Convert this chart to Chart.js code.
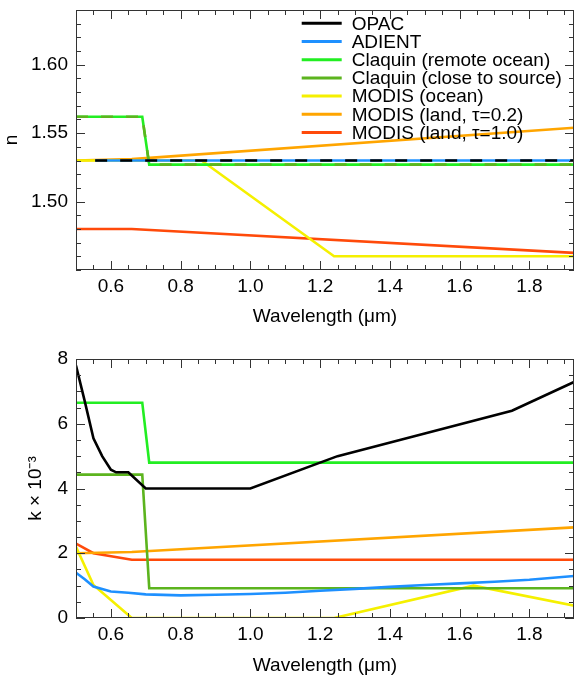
<!DOCTYPE html>
<html>
<head>
<meta charset="utf-8">
<script src="https://cdn.jsdelivr.net/npm/chart.js@4.4.0/dist/chart.umd.min.js"></script>
<style>
  body { margin: 0; background: #fff; }
  #wrap { position: relative; width: 575px; height: 675px; }
  canvas { position: absolute; left: 0; }
  #topChart { top: 0; }
  #botChart { top: 337px; }
</style>
</head>
<body>
<div id="wrap">
  <canvas id="topChart" width="575" height="337"></canvas>
  <canvas id="botChart" width="575" height="338"></canvas>
</div>
<script>
// series names, same order as legend
const seriesNames = ['OPAC', 'ADIENT', 'Claquin (remote ocean)', 'Claquin (close to source)',
  'MODIS (ocean)', 'MODIS (land, \u03c4=0.2)', 'MODIS (land, \u03c4=1.0)'];
const seriesColors = ['#000000', '#1e90ff', '#22ee22', '#5cb41e', '#f5f000', '#ffa500', '#ff4a0a'];

// tick labels
const xTicks = [0.6, 0.8, 1.0, 1.2, 1.4, 1.6, 1.8];
const nTicks = [1.50, 1.55, 1.60];
const kTicks = [0, 2, 4, 6, 8];

// real part n (top panel), wavelength in um
const opacWlN = [0.555, 1.93];
const opacN = [1.53, 1.53];
const adientWlN = [0.555, 1.93];
const adientN = [1.53, 1.53];
const claquinWl = [0.5, 0.69, 0.71, 1.93];
const claquinRemoteN = [1.562, 1.562, 1.527, 1.527];
const claquinSourceN = [1.562, 1.562, 1.527, 1.527];
const modisOceanWlN = [0.5, 0.86, 1.24, 1.93];
const modisOceanN = [1.53, 1.53, 1.46, 1.46];
const modisLandWlN = [0.5, 0.66, 1.93];
const modisLand02N = [1.53, 1.531, 1.554];
const modisLand10N = [1.48, 1.48, 1.4625];

// imaginary part k x 1e-3 (bottom panel)
const opacWlK = [0.5, 0.525, 0.55, 0.575, 0.6, 0.615, 0.65, 0.7, 1.0, 1.25, 1.5, 1.75, 1.93];
const opacK = [7.8, 6.7, 5.55, 5.0, 4.58, 4.5, 4.5, 4.0, 4.0, 5.0, 5.7, 6.4, 7.3];
const adientWlK = [0.5, 0.525, 0.55, 0.6, 0.65, 0.7, 0.8, 0.9, 1.0, 1.1, 1.2, 1.3, 1.4, 1.5, 1.6, 1.7, 1.8, 1.93];
const adientK = [1.4, 1.2, 0.97, 0.82, 0.78, 0.73, 0.7, 0.72, 0.74, 0.78, 0.84, 0.9, 0.96, 1.02, 1.07, 1.12, 1.18, 1.3];
const claquinRemoteK = [6.65, 6.65, 4.8, 4.8];
const claquinSourceK = [4.43, 4.43, 0.92, 0.92];
const modisOceanWlK = [0.5, 0.55, 0.66, 1.24, 1.64, 1.93];
const modisOceanK = [2.2, 1.02, 0, 0, 1.0, 0.38];
const modisLand02WlK = [0.5, 0.66, 1.93];
const modisLand02K = [2.0, 2.04, 2.8];
const modisLand10WlK = [0.5, 0.55, 0.66, 1.93];
const modisLand10K = [2.3, 2.0, 1.8, 1.8];

Chart.defaults.font.family = "'Liberation Sans', Arial, sans-serif";
Chart.defaults.font.size = 19;
Chart.defaults.color = '#000';

function pts(xs, ys) {
  return xs.map((x, i) => ({ x: x, y: ys[i] }));
}

function line(idx, xs, ys, extra) {
  return Object.assign({
    label: seriesNames[idx],
    data: pts(xs, ys),
    borderColor: seriesColors[idx],
    borderWidth: 2.6,
    pointRadius: 0,
    tension: 0,
    fill: false
  }, extra || {});
}

// box frame with inward ticks on all four sides
const frameTicks = {
  id: 'frameTicks',
  afterDatasetsDraw(chart, args, opts) {
    const { ctx, chartArea: a, scales } = chart;
    const xs = scales.x, ys = scales.y;
    ctx.save();
    ctx.strokeStyle = '#333';
    ctx.lineWidth = 1;
    ctx.strokeRect(Math.round(a.left) + 0.5, Math.round(a.top) + 0.5,
      Math.round(a.right - a.left) - 1, Math.round(a.bottom - a.top) - 1);
    ctx.beginPath();
    const xMajor = xTicks, yMajor = opts.yMajor;
    function isMajor(list, v) { return list.some(m => Math.abs(m - v) < 1e-6); }
    for (let i = Math.ceil(xs.min / opts.xMinor - 1e-6); i * opts.xMinor <= xs.max + 1e-9; i++) {
      const v = i * opts.xMinor;
      const px = Math.round(xs.getPixelForValue(v)) + 0.5;
      const len = isMajor(xMajor, v) ? 9 : 5;
      ctx.moveTo(px, a.bottom); ctx.lineTo(px, a.bottom - len);
      ctx.moveTo(px, a.top); ctx.lineTo(px, a.top + len);
    }
    for (let i = Math.ceil(ys.min / opts.yMinor - 1e-6); i * opts.yMinor <= ys.max + 1e-9; i++) {
      const v = i * opts.yMinor;
      const py = Math.round(ys.getPixelForValue(v)) + 0.5;
      const len = isMajor(yMajor, v) ? 9 : 5;
      ctx.moveTo(a.left, py); ctx.lineTo(a.left + len, py);
      ctx.moveTo(a.right, py); ctx.lineTo(a.right - len, py);
    }
    ctx.stroke();
    ctx.restore();
  }
};

// legend in upper right of the top panel
const lineLegend = {
  id: 'lineLegend',
  afterDraw(chart, args, opts) {
    if (!opts.show) return;
    const ctx = chart.ctx;
    ctx.save();
    ctx.font = "19px 'Liberation Sans', Arial, sans-serif";
    ctx.textBaseline = 'middle';
    ctx.fillStyle = '#000';
    seriesNames.forEach((name, i) => {
      const y = 23.3 + i * 18.2;
      ctx.strokeStyle = seriesColors[i];
      ctx.lineWidth = 3;
      ctx.beginPath();
      ctx.moveTo(301.7, y); ctx.lineTo(341.7, y);
      ctx.stroke();
      ctx.fillText(name, 351.7, y + 1);
    });
    ctx.restore();
  }
};

function xScale(height, titlePad) {
  return {
    type: 'linear', min: 0.5, max: 1.928,
    grid: { display: false, drawTicks: false },
    border: { display: false },
    afterBuildTicks: s => { s.ticks = xTicks.map(v => ({ value: v })); },
    ticks: { padding: 5, autoSkip: false, maxRotation: 0, callback: v => Number(v).toFixed(1) },
    title: { display: true, text: 'Wavelength (\u03bcm)', padding: { top: 0, bottom: titlePad }, font: { size: 19, lineHeight: 1 } },
    afterFit: s => { s.height = height; s.paddingLeft = 0; s.paddingRight = 0; }
  };
}

function yScale(min, max, ticks, digits, title, titlePad) {
  return {
    type: 'linear', min: min, max: max,
    grid: { display: false, drawTicks: false },
    border: { display: false },
    afterBuildTicks: s => { s.ticks = ticks.map(v => ({ value: v })); },
    ticks: { padding: 8, autoSkip: false, callback: v => Number(v).toFixed(digits) },
    title: { display: true, text: title, padding: { top: titlePad, bottom: 0 }, font: { size: 19, lineHeight: 1 } },
    afterFit: s => { s.width = 76; s.paddingTop = 0; s.paddingBottom = 0; }
  };
}

new Chart(document.getElementById('topChart'), {
  type: 'line',
  data: {
    datasets: [
      line(0, opacWlN, opacN, { borderDash: [12, 13], order: 0 }),
      line(1, adientWlN, adientN, { order: 1 }),
      line(2, claquinWl, claquinRemoteN, { order: 3 }),
      line(3, claquinWl, claquinSourceN, { borderDash: [12, 13], order: 2 }),
      line(4, modisOceanWlN, modisOceanN, { order: 4 }),
      line(5, modisLandWlN, modisLand02N, { order: 5 }),
      line(6, modisLandWlN, modisLand10N, { order: 6 })
    ]
  },
  options: {
    responsive: false, animation: false, devicePixelRatio: 1,
    layout: { padding: { top: 10, right: 1, left: 0, bottom: 0 } },
    scales: {
      x: xScale(67, 10.5),
      y: yScale(1.45, 1.64, nTicks, 2, 'n', 2.5)
    },
    plugins: {
      legend: { display: false },
      tooltip: { enabled: false },
      frameTicks: { xMinor: 0.05, yMinor: 0.01, yMajor: nTicks },
      lineLegend: { show: true }
    }
  },
  plugins: [frameTicks, lineLegend]
});

new Chart(document.getElementById('botChart'), {
  type: 'line',
  data: {
    datasets: [
      line(0, opacWlK, opacK),
      line(1, adientWlK, adientK),
      line(2, claquinWl, claquinRemoteK),
      line(3, claquinWl, claquinSourceK),
      line(4, modisOceanWlK, modisOceanK),
      line(5, modisLand02WlK, modisLand02K),
      line(6, modisLand10WlK, modisLand10K)
    ]
  },
  options: {
    responsive: false, animation: false, devicePixelRatio: 1,
    layout: { padding: { top: 22, right: 1, left: 0, bottom: 0 } },
    scales: {
      x: xScale(57, 0),
      y: yScale(0, 8, kTicks, 0, 'k \u00d7 10\u207b\u00b3', 26)
    },
    plugins: {
      legend: { display: false },
      tooltip: { enabled: false },
      frameTicks: { xMinor: 0.05, yMinor: 0.5, yMajor: kTicks },
      lineLegend: { show: false }
    }
  },
  plugins: [frameTicks, lineLegend]
});
</script>
</body>
</html>
